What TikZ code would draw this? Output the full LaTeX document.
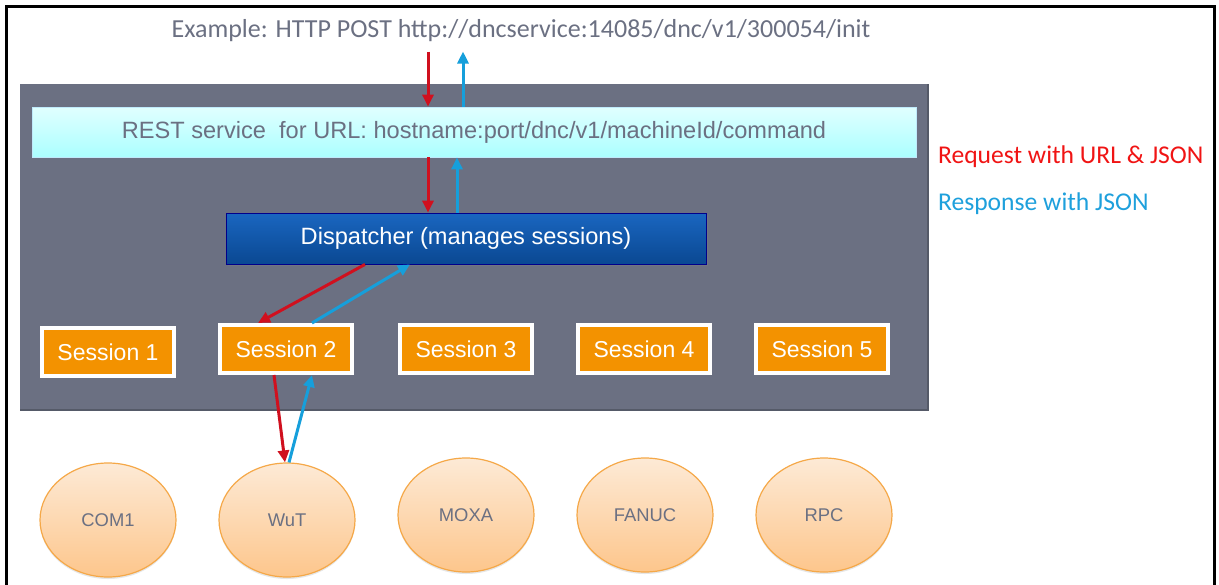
\documentclass[tikz,border=0pt]{standalone}
\usepackage{fontspec}
\setmainfont{Carlito}
\newfontfamily\arialfont{Liberation Sans}
\usetikzlibrary{arrows.meta,shapes.geometric,shadows}

\definecolor{slate}{HTML}{6B7082}
\definecolor{slateedge}{HTML}{555A68}
\definecolor{sessorange}{HTML}{F39200}
\definecolor{reqred}{HTML}{D0101E}
\definecolor{resblue}{HTML}{169FDB}
\definecolor{legred}{HTML}{F01414}
\definecolor{legblue}{HTML}{1EA0DC}

\tikzset{
  restbar/.style={draw=cyan!25, top color=cyan!12, bottom color=cyan!33,
    minimum width=442pt, minimum height=25pt, inner sep=0pt, text=slate,
    font=\arialfont\fontsize{11.8}{13}\selectfont},
  dispbox/.style={draw=blue!55!black, top color={rgb,255:red,26;green,102;blue,192},
    bottom color={rgb,255:red,10;green,72;blue,146}, minimum width=240pt,
    minimum height=25.5pt, inner sep=0pt, text=white,
    font=\arialfont\fontsize{11.8}{13}\selectfont,
    drop shadow={opacity=0.35, shadow xshift=1pt, shadow yshift=-1pt}},
  session/.style={draw=white, line width=2pt, fill=sessorange, text=white,
    minimum width=66pt, minimum height=24pt, inner sep=0pt,
    font=\arialfont\fontsize{11.5}{13}\selectfont,
    drop shadow={opacity=0.3, shadow xshift=0.8pt, shadow yshift=-0.8pt}},
  device/.style={ellipse, draw={rgb,255:red,245;green,168;blue,72}, line width=0.6pt,
    top color={rgb,255:red,253;green,234;blue,214},
    bottom color={rgb,255:red,253;green,198;blue,140},
    minimum width=68pt, minimum height=57pt, inner sep=0pt, text=slate,
    font=\arialfont\fontsize{9.2}{10}\selectfont,
    drop shadow={opacity=0.2, shadow xshift=0pt, shadow yshift=-1pt}},
  req/.style={draw=reqred, line width=1.5pt, -{Triangle[length=6pt,width=5.5pt]}},
  res/.style={draw=resblue, line width=1.5pt, -{Triangle[length=6pt,width=5.5pt]}}
}

\begin{document}
\begin{tikzpicture}[x=0.5pt,y=-0.5pt]
\useasboundingbox (0,0) rectangle (1219,584);
\draw[line width=1.5pt] (6,590) -- (6,6) -- (1214,6) -- (1214,590);

% url on top
\node[text=slate, font=\fontsize{13}{15}\selectfont, inner ysep=4.5pt] (title) at (521,31)
  {Example: HTTP POST http://dncservice:14085/dnc/v1/300054/init};

% service panel
\fill[slate] (20,84) rectangle (928,410);
\draw[slateedge, line width=1.2pt] (20,410) -- (928,410) -- (928,84);
\node[restbar] (rest) at (474,132) {REST service\ \ for URL: hostname:port/dnc/v1/machineId/command};
\node[dispbox] (disp) at (466,238.5) {Dispatcher (manages sessions)};

\node[session] (s1) at (108,352) {Session 1};
\node[session] (s2) at (286,349) {Session 2};
\node[session] (s3) at (466,349) {Session 3};
\node[session] (s4) at (644,349) {Session 4};
\node[session] (s5) at (822,349) {Session 5};

% devices
\node[device] (com1) at (108,520) {COM1};
\node[device] (wut) at (287,520) {WuT};
\node[device] (moxa) at (466,515) {MOXA};
\node[device] (fanuc) at (645,515) {FANUC};
\node[device] (rpc) at (824,515) {RPC};

% request / response flow
\draw[req] (title.south -| 428,0) -- (rest.north -| 428,0);
\draw[res] (rest.north -| 463,0) -- (title.south -| 463,0);
\draw[req] (rest.south -| 428,0) -- (disp.north -| 428,0);
\draw[res] (disp.north -| 457,0) -- (rest.south -| 457,0);
\draw[req] (disp.south -| 365,0) -- (s2.north -| 258,0);
\draw[res] (s2.north -| 312,0) -- (disp.south -| 410,0);
\draw[req] (s2.south -| 274,0) -- ([xshift=-1pt]wut.north);
\draw[res] ([xshift=1pt]wut.north) -- (s2.south -| 312,0);

% legend
\node[anchor=west, text=legred, font=\fontsize{12.8}{15}\selectfont] (legreq) at (931,157) {Request with URL \& JSON};
\node[anchor=west, text=legblue, font=\fontsize{12.8}{15}\selectfont] (legres) at (931,204) {Response with JSON};
\end{tikzpicture}
\end{document}
